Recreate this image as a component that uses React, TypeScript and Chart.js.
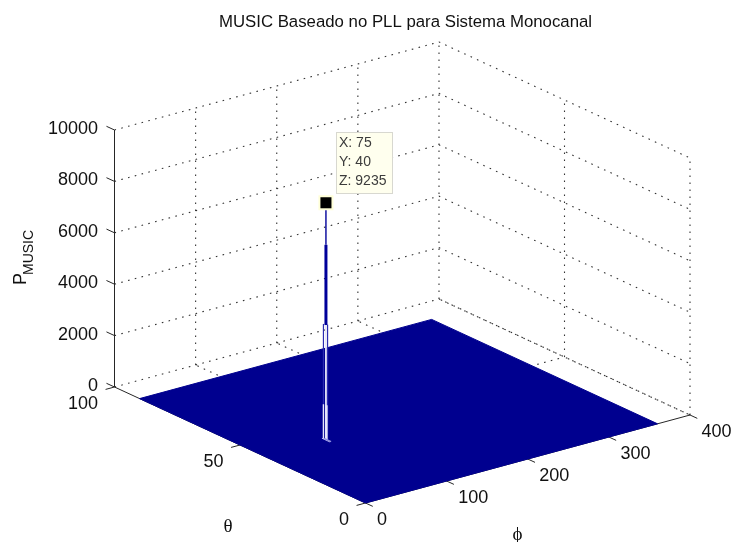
import React, { useEffect, useRef } from "react";
import { Chart, registerables } from "chart.js";

Chart.register(...registerables);

// ---- Chart values ----
const phiTicks = [0, 100, 200, 300, 400];
const thetaTicks = [0, 50, 100];
const zTicks = [0, 2000, 4000, 6000, 8000, 10000];

// Extent of the spectrum surface
const surfacePhi = [0, 360];
const surfaceTheta = [0, 90];

// Peak picked by the data cursor
const peakPhi = 75;
const peakTheta = 40;
const peakZ = 9235;

// Heights reached by the narrow ridge around the peak
const ridgeWideZ = 7600;
const ridgeLightZ = 4475;
const ridgeFootZ = 1350;

const titleText = "MUSIC Baseado no PLL para Sistema Monocanal";

// ---- View of the 3-D box (pixel origin plus one vector per data axis) ----
const FRONT = { x: 365.5, y: 503 };
const PHI_VEC = { x: 324.5 / 400, y: -88 / 400 };
const THETA_VEC = { x: -251 / 100, y: -116 / 100 };
const Z_VEC = { x: 0, y: -257 / 10000 };

const project = (phi: number, theta: number, z: number) => ({
  x: FRONT.x + phi * PHI_VEC.x + theta * THETA_VEC.x,
  y: FRONT.y + phi * PHI_VEC.y + theta * THETA_VEC.y + z * Z_VEC.y,
});

const SURFACE = "#00008f";
const LIGHT = "#e6e6fa";
const FONT = "'Liberation Sans', Arial, sans-serif";

type P = { x: number; y: number };
const lineSet = (data: P[], color: string, width: number, dash: number[] = [], extra: object = {}) => ({
  type: "scatter" as const,
  data,
  showLine: true,
  borderColor: color,
  borderWidth: width,
  borderDash: dash,
  pointRadius: 0,
  tension: 0,
  fill: false,
  clip: false as const,
  ...extra,
});

const buildDatasets = () => {
  const zMax = zTicks[zTicks.length - 1];
  const phiMax = phiTicks[phiTicks.length - 1];
  const thetaMax = thetaTicks[thetaTicks.length - 1];
  const sets: any[] = [];
  const dotted = (pts: P[]) => sets.push(lineSet(pts, "#333333", 1.1, [1.6, 5.4]));
  const solid = (pts: P[]) => sets.push(lineSet(pts, "#262626", 1));

  zTicks.forEach((z) =>
    dotted([project(0, thetaMax, z), project(phiMax, thetaMax, z), project(phiMax, 0, z)])
  );
  phiTicks.forEach((p) => {
    if (p > 0) dotted([project(p, thetaMax, 0), project(p, thetaMax, zMax)]);
    if (p > 0) dotted([project(p, 0, 0), project(p, thetaMax, 0)]);
  });
  thetaTicks.forEach((t) => {
    if (t < thetaMax) dotted([project(phiMax, t, 0), project(phiMax, t, zMax)]);
    if (t > 0 && t < thetaMax) dotted([project(0, t, 0), project(phiMax, t, 0)]);
  });

  // Axes and tick marks
  solid([project(0, thetaMax, 0), project(0, thetaMax, zMax)]);
  solid([project(0, 0, 0), project(phiMax, 0, 0)]);
  solid([project(0, 0, 0), project(0, thetaMax, 0)]);
  zTicks.forEach((z) => solid([project(0, thetaMax, z), project(0, thetaMax + 3.2, z)]));
  phiTicks.forEach((p) => solid([project(p, 0, 0), project(p, -2.9, 0)]));
  thetaTicks.forEach((t) => solid([project(0, t, 0), project(-11, t, 0)]));

  // Surface: upper edge filled down to the lower edge
  const [p0, p1] = surfacePhi;
  const [t0, t1] = surfaceTheta;
  sets.push(
    lineSet([project(p0, t1, 0), project(p1, t1, 0), project(p1, t0, 0)], SURFACE, 1, [], {
      fill: "+1",
      backgroundColor: SURFACE,
    })
  );
  sets.push(lineSet([project(p0, t1, 0), project(p0, t0, 0), project(p1, t0, 0)], SURFACE, 1));

  // Ridge around the peak
  const at = (dp: number, dt: number, z: number) => project(peakPhi + dp, peakTheta + dt, z);
  sets.push(lineSet([at(0, 1, 0), at(0, 1, ridgeLightZ)], "#2a2ab0", 1.2));
  sets.push(lineSet([at(2, 0, 0), at(2, 0, ridgeLightZ)], "#2a2ab0", 1.2));
  sets.push(lineSet([at(0, 0, ridgeLightZ), at(0, 0, ridgeWideZ)], "#00009a", 3));
  sets.push(lineSet([at(0, 0, ridgeWideZ), at(0, 0, peakZ)], "#00009a", 1.4));
  sets.push(lineSet([at(0, 0, 0), at(0, 0, ridgeLightZ)], LIGHT, 1.8));
  sets.push(lineSet([at(0.6, 0, 0), at(0.6, 0, ridgeFootZ)], LIGHT, 2.4));
  sets.push(lineSet([at(0, 1, 0), at(0, 1, ridgeFootZ)], LIGHT, 1.4));
  sets.push(lineSet([at(0, 1.6, 0), at(0, -1.6, 0)], "#b8b8f0", 1));
  sets.push(lineSet([at(1.4, 1.2, 0), at(1.4, -1.6, 0)], "#8c8ce0", 1.4));

  // Data cursor marker
  const tip = [at(0, 0, peakZ)];
  sets.push({
    type: "scatter" as const,
    data: tip,
    pointStyle: "rect",
    pointRadius: 10.6,
    pointBackgroundColor: "#ffffd8",
    pointBorderWidth: 0,
    clip: false,
  });
  sets.push({
    type: "scatter" as const,
    data: tip,
    pointStyle: "rect",
    pointRadius: 7.8,
    pointBackgroundColor: "#000000",
    pointBorderWidth: 0,
    clip: false,
  });

  // Later entries are painted on top
  sets.forEach((s, i) => (s.order = sets.length - i));
  return sets;
};

const textPlugin = {
  id: "boxText",
  afterDraw(chart: any) {
    const ctx = chart.ctx as CanvasRenderingContext2D;
    const zMaxT = thetaTicks[thetaTicks.length - 1];
    ctx.save();
    ctx.fillStyle = "#111111";
    ctx.textBaseline = "middle";
    ctx.font = `18px ${FONT}`;

    ctx.textAlign = "right";
    zTicks.forEach((z) => {
      const p = project(0, zMaxT, z);
      ctx.fillText(String(z), p.x - 16.5, p.y - 1);
    });
    thetaTicks.forEach((t) => {
      const p = project(0, t, 0);
      ctx.fillText(String(t), p.x - 16.5, p.y + 17);
    });
    ctx.textAlign = "left";
    phiTicks.forEach((v) => {
      const p = project(v, 0, 0);
      ctx.fillText(String(v), p.x + 11.5, p.y + 17.5);
    });

    // Axis titles
    ctx.textAlign = "center";
    ctx.font = `19px 'Liberation Serif', serif`;
    ctx.fillText("θ", 228, 527);
    ctx.fillText("ϕ", 517.5, 535);

    ctx.save();
    ctx.translate(26, 285);
    ctx.rotate(-Math.PI / 2);
    ctx.textAlign = "left";
    ctx.textBaseline = "alphabetic";
    ctx.font = `18px ${FONT}`;
    ctx.fillText("P", 0, 0);
    ctx.font = `14px ${FONT}`;
    ctx.fillText("MUSIC", 10, 7);
    ctx.restore();

    // Data cursor box
    ctx.fillStyle = "#ffffee";
    ctx.strokeStyle = "#d8d8d0";
    ctx.lineWidth = 1;
    ctx.fillRect(336.5, 132.5, 56, 61);
    ctx.strokeRect(336.5, 132.5, 56, 61);
    ctx.fillStyle = "#3c3c3c";
    ctx.textAlign = "left";
    ctx.textBaseline = "middle";
    ctx.font = `14px ${FONT}`;
    ctx.fillText(`X: ${peakPhi}`, 339, 143);
    ctx.fillText(`Y: ${peakTheta}`, 339, 162);
    ctx.fillText(`Z: ${peakZ}`, 339, 181);
    ctx.restore();
  },
};

export default function App() {
  const ref = useRef<HTMLCanvasElement | null>(null);
  useEffect(() => {
    if (!ref.current) return;
    document.body.style.margin = "0";
    document.body.style.background = "#ffffff";
    const chart = new Chart(ref.current, {
      type: "scatter",
      data: { datasets: buildDatasets() },
      options: {
        animation: false,
        responsive: false,
        devicePixelRatio: 1,
        layout: { autoPadding: false, padding: { left: 80 } },
        scales: {
          x: { type: "linear", display: false, min: 80, max: 731 },
          y: { type: "linear", display: false, min: 40, max: 542, reverse: true },
        },
        plugins: {
          legend: { display: false },
          tooltip: { enabled: false },
          title: {
            display: true,
            text: titleText,
            color: "#111111",
            font: { family: FONT, size: 16.8, weight: "normal", lineHeight: 18 / 16.8 },
            padding: { top: 13, bottom: 9 },
          },
        },
      },
      plugins: [textPlugin],
    } as any);
    return () => chart.destroy();
  }, []);
  return (
    <canvas
      ref={ref}
      width={731}
      height={542}
      style={{ position: "absolute", left: 0, top: 0, display: "block" }}
    />
  );
}
